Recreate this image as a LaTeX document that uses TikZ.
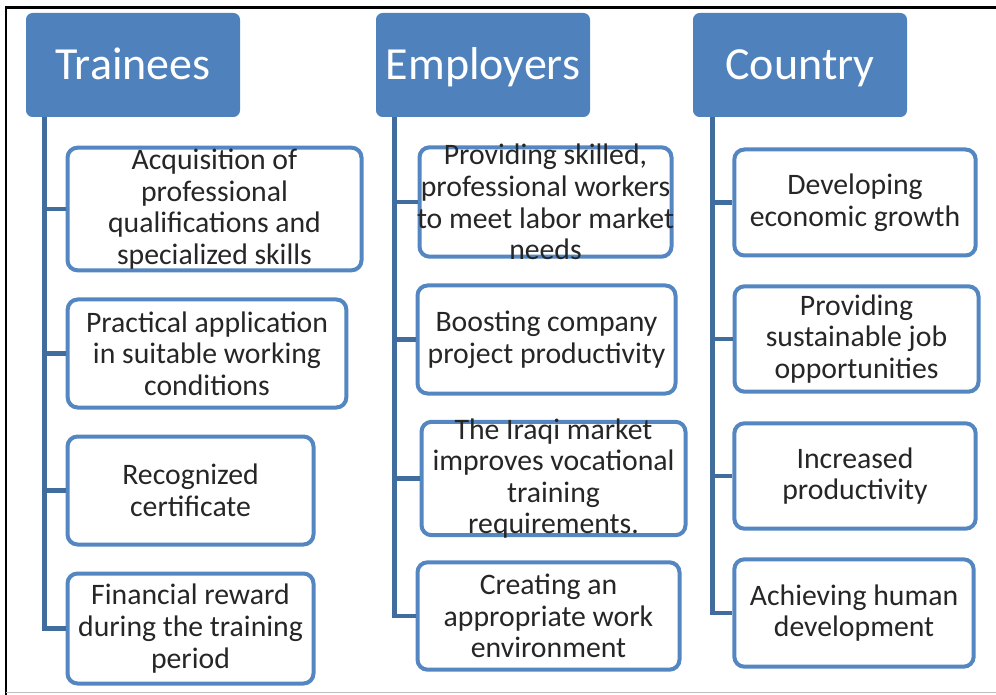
\documentclass[tikz,border=0pt]{standalone}
\usepackage{fontspec}
\setmainfont{Carlito}
\usepackage{tikz}

\definecolor{hdblue}{RGB}{79,129,189}
\definecolor{bxblue}{RGB}{84,134,194}
\definecolor{lnblue}{RGB}{65,108,158}
\definecolor{txgray}{RGB}{38,38,38}

\tikzset{
  head/.style={fill=hdblue, rounded corners=5pt, inner sep=0pt, text=white,
    text height=24pt, text depth=1.5pt,
    font=\fontsize{34.5}{40}\selectfont},
  item/.style={draw=bxblue, line width=3pt, rounded corners=7.5pt, fill=white, inner sep=0pt},
  itemtext/.style={align=center, inner sep=0pt, text=txgray,
    font=\fontsize{22.3}{23.7}\selectfont},
  link/.style={draw=lnblue, line width=3.4pt},
}

\begin{document}
\begin{tikzpicture}[x=0.75pt,y=0.75pt,yscale=-1,xscale=1]
    \useasboundingbox (0,0) rectangle (996,695);

    %Frame
    \draw [black, line width=2pt] (6,695) -- (6,7.5) -- (996,7.5) ;
    \draw [black!25, line width=1pt] (6,692.5) -- (996,692.5) ;

    %Headers
    \node [head, minimum width=160.5pt, minimum height=78pt] (tr) at (133,65) {Trainees};
    \node [head, minimum width=160.5pt, minimum height=78pt] (em) at (483,65) {Employers};
    \node [head, minimum width=160.5pt, minimum height=78pt] (co) at (800,65) {Country};

    %Trainees boxes
    \node [item, minimum width=220.5pt, minimum height=92pt] (t1) at (214.5,209) {};
    \node [item, minimum width=209pt, minimum height=81pt] (t2) at (207,353.5) {};
    \node [item, minimum width=184.5pt, minimum height=81pt] (t3) at (190.5,490.5) {};
    \node [item, minimum width=184.5pt, minimum height=82.5pt] (t4) at (190.5,628.5) {};

    %Employers boxes
    \node [item, minimum width=189pt, minimum height=82pt] (e1) at (545.5,202) {};
    \node [item, minimum width=193.5pt, minimum height=81pt] (e2) at (546.5,339.5) {};
    \node [item, minimum width=198pt, minimum height=85pt] (e3) at (553.5,478.5) {};
    \node [item, minimum width=196.5pt, minimum height=80.5pt] (e4) at (548.5,616) {};

    %Country boxes
    \node [item, minimum width=181pt, minimum height=79.5pt] (c1) at (855,202.5) {};
    \node [item, minimum width=183pt, minimum height=79pt] (c2) at (856.5,339) {};
    \node [item, minimum width=181pt, minimum height=79pt] (c3) at (855,476) {};
    \node [item, minimum width=179.5pt, minimum height=80.5pt] (c4) at (854,613) {};

    %Trunks
    \coordinate (trb) at ([xshift=14.25pt]tr.south west);
    \coordinate (emb) at ([xshift=14.25pt]em.south west);
    \coordinate (cob) at ([xshift=15pt]co.south west);
    \draw [link] (trb) |- (t4.west) ;
    \draw [link] (trb |- t1) -- (t1.west) ;
    \draw [link] (trb |- t2) -- (t2.west) ;
    \draw [link] (trb |- t3) -- (t3.west) ;
    \draw [link] (emb) |- (e4.west) ;
    \draw [link] (emb |- e1) -- (e1.west) ;
    \draw [link] (emb |- e2) -- (e2.west) ;
    \draw [link] (emb |- e3) -- (e3.west) ;
    \draw [link] (cob) |- (c4.west) ;
    \draw [link] (cob |- c1) -- (c1.west) ;
    \draw [link] (cob |- c2) -- (c2.west) ;
    \draw [link] (cob |- c3) -- (c3.west) ;

    % Text Node
    \node [itemtext] (t1x) at (t1) {Acquisition of\\professional\\qualifications and\\specialized skills};
    \node [itemtext] (t2x) at (t2) {Practical application\\in suitable working\\conditions};
    \node [itemtext] (t3x) at (t3) {Recognized\\certificate};
    \node [itemtext] (t4x) at (t4) {Financial reward\\during the training\\period};
    % Text Node
    \node [itemtext] (e1x) at (e1) {Providing skilled,\\professional workers\\to meet labor market\\needs};
    \node [itemtext] (e2x) at (e2) {Boosting company\\project productivity};
    \node [itemtext] (e3x) at (e3) {The Iraqi market\\improves vocational\\training\\requirements.};
    \node [itemtext] (e4x) at (e4) {Creating an\\appropriate work\\environment};
    % Text Node
    \node [itemtext] (c1x) at (c1) {Developing\\economic growth};
    \node [itemtext] (c2x) at (c2) {Providing\\sustainable job\\opportunities};
    \node [itemtext] (c3x) at (c3) {Increased\\productivity};
    \node [itemtext] (c4x) at (c4) {Achieving human\\development};

\end{tikzpicture}
\end{document}
